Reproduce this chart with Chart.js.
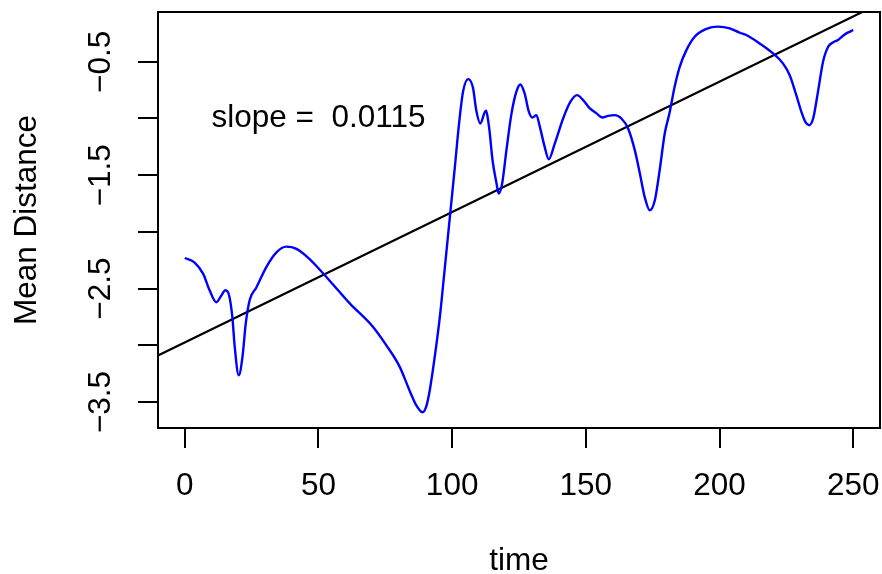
<!DOCTYPE html>
<html>
<head>
<meta charset="utf-8">
<script src="https://cdn.jsdelivr.net/npm/chart.js@4.4.0/dist/chart.umd.min.js"></script>
<style>
  body { margin: 0; background: #fff; }
  #wrap { width: 882px; height: 574px; }
</style>
</head>
<body>
<div id="wrap"><canvas id="distChart" width="882" height="574"></canvas></div>
<script>
// mean distance over time, read at irregular time points
const timePoints = [
  0, 3.7, 6.9, 9.3, 11.8, 13.7, 15.2, 16.6, 17.8, 18.7, 20.2, 21.6, 22.8, 24.3, 26.8,
  30.5, 34.3, 38.0, 41.8, 46.7, 51.7, 54.2, 61.7, 70.5, 75.4, 80.4, 84.1, 86.6, 88.9,
  90.3, 91.6, 93.5, 95.4, 97.2, 99.1, 101.0, 102.6, 104.1, 106.0, 107.8, 109.0, 110.5,
  112.6, 113.8, 115.1, 116.6, 117.4, 118.7, 120.3, 122.2, 124.0, 125.5, 127.1, 128.7,
  130.0, 131.5, 132.8, 134.6, 136.1, 138.4, 141.5, 144.3, 146.7, 149.0, 151.5, 154.0,
  156.2, 158.3, 160.8, 163.3, 165.8, 168.3, 170.2, 172.0, 173.9, 175.8, 177.6, 179.5,
  181.3, 183.2, 185.1, 187.6, 190.7, 195.1, 199.4, 203.8, 207.6, 210.0, 215.0, 220.0,
  223.7, 226.2, 228.7, 230.6, 232.2, 233.5, 235.0, 236.8, 238.7, 240.6, 242.4, 244.3,
  246.2, 248.1, 250
];
const meanDistance = [
  -2.23, -2.27, -2.37, -2.515, -2.62, -2.56, -2.515, -2.56, -2.75, -3.015, -3.265, -3.10, -2.81, -2.60, -2.49,
  -2.31, -2.18, -2.13, -2.15, -2.24, -2.365, -2.43, -2.63, -2.84, -3.00, -3.19, -3.40, -3.53, -3.59,
  -3.54, -3.40, -3.10, -2.75, -2.33, -1.88, -1.43, -1.04, -0.76, -0.653, -0.73, -0.926, -1.044,
  -0.932, -1.074, -1.368, -1.573, -1.662, -1.573, -1.279, -0.955, -0.765, -0.70, -0.779, -0.941,
  -0.991, -0.970, -1.074, -1.25, -1.359, -1.22, -1.0, -0.85, -0.794, -0.838, -0.911, -0.955,
  -0.991, -0.977, -0.970, -1.0, -1.088, -1.279, -1.485, -1.691, -1.809, -1.721, -1.456, -1.132,
  -0.95, -0.72, -0.544, -0.397, -0.279, -0.21, -0.19, -0.205, -0.244, -0.264, -0.338, -0.426,
  -0.514, -0.617, -0.794, -0.941, -1.035, -1.059, -1.0, -0.765, -0.5, -0.368, -0.329, -0.308,
  -0.270, -0.241, -0.220
];

// fitted trend line
const slope = 0.0115;
const intercept = -2.975;
const slopeLabel = "slope =  0.0115";

const xTicks = [0, 50, 100, 150, 200, 250];
const yTicks = [-3.5, -3, -2.5, -2, -1.5, -1, -0.5];
const yTickLabels = ["\u22123.5", "", "\u22122.5", "", "\u22121.5", "", "\u22120.5"];

const xRange = [-10, 260];
const yRange = [-3.729, -0.061];

const FONT = '"Liberation Sans", Arial, Helvetica, sans-serif';
const FONT_SIZE = 31.5;

const curve = timePoints.map((t, i) => ({ x: t, y: meanDistance[i] }));
const trend = xRange.map(t => ({ x: t, y: intercept + slope * t }));

const rPlotDecor = {
  id: "rPlotDecor",
  afterDraw(chart) {
    const ctx = chart.ctx;
    const area = chart.chartArea;
    const xs = chart.scales.x, ys = chart.scales.y;
    ctx.save();

    // frame round the plot region
    ctx.strokeStyle = "#000";
    ctx.lineWidth = 2;
    ctx.strokeRect(area.left, area.top, area.right - area.left, area.bottom - area.top);

    ctx.fillStyle = "#000";
    ctx.font = FONT_SIZE + "px " + FONT;
    ctx.textAlign = "center";
    ctx.textBaseline = "middle";

    // y tick labels, parallel to the axis
    yTicks.forEach((v, i) => {
      if (!yTickLabels[i]) return;
      ctx.save();
      ctx.translate(101, ys.getPixelForValue(v));
      ctx.rotate(-Math.PI / 2);
      ctx.fillText(yTickLabels[i], 0, 0);
      ctx.restore();
    });

    ctx.fillText(slopeLabel, xs.getPixelForValue(50), ys.getPixelForValue(-1));

    // axis titles
    ctx.fillText("time", (area.left + area.right) / 2, 561);
    ctx.save();
    ctx.translate(27, (area.top + area.bottom) / 2);
    ctx.rotate(-Math.PI / 2);
    ctx.fillText("Mean Distance", 0, 0);
    ctx.restore();

    ctx.restore();
  }
};

new Chart(document.getElementById("distChart"), {
  type: "line",
  data: {
    datasets: [
      {
        label: "mean distance",
        data: curve,
        borderColor: "#0000ff",
        borderWidth: 2.4,
        pointRadius: 0,
        fill: false,
        cubicInterpolationMode: "monotone"
      },
      {
        label: "trend",
        data: trend,
        borderColor: "#000",
        borderWidth: 2.2,
        pointRadius: 0,
        fill: false,
        tension: 0
      }
    ]
  },
  options: {
    responsive: false,
    animation: false,
    events: [],
    layout: { padding: { top: 12, right: 2, left: 0, bottom: 0 } },
    plugins: { legend: { display: false }, tooltip: { enabled: false } },
    scales: {
      x: {
        type: "linear",
        min: xRange[0],
        max: xRange[1],
        afterBuildTicks: s => { s.ticks = xTicks.map(v => ({ value: v })); },
        afterFit: s => { s.height = 146; s.paddingLeft = 0; s.paddingRight = 0; },
        border: { display: false },
        grid: { drawOnChartArea: false, drawTicks: true, tickLength: 20, color: "#000", lineWidth: 2 },
        ticks: {
          color: "#000",
          font: { family: FONT, size: FONT_SIZE },
          padding: 19,
          maxRotation: 0,
          autoSkip: false,
          callback: v => String(v)
        }
      },
      y: {
        type: "linear",
        min: yRange[0],
        max: yRange[1],
        afterBuildTicks: s => { s.ticks = yTicks.map(v => ({ value: v })); },
        afterFit: s => { s.width = 158; s.paddingTop = 0; s.paddingBottom = 0; },
        border: { display: false },
        grid: { drawOnChartArea: false, drawTicks: true, tickLength: 20, color: "#000", lineWidth: 2 },
        ticks: { display: true, color: "rgba(0,0,0,0)", font: { size: 1 }, callback: () => "" }
      }
    }
  },
  plugins: [rPlotDecor]
});
</script>
</body>
</html>
